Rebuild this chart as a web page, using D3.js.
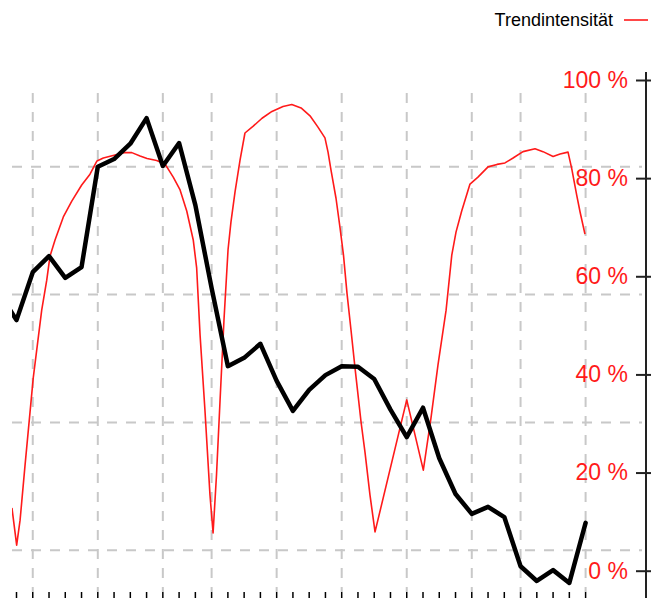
<!DOCTYPE html>
<html><head><meta charset="utf-8">
<script src="https://cdn.jsdelivr.net/npm/d3@7"></script>
<style>html,body{margin:0;padding:0;background:#fff;}svg{display:block;}</style>
</head><body>
<svg id="chart" width="651" height="598"></svg>
<script>
// Black series (weekly, index -1 lies before the visible area)
const kursWeeks = d3.range(-1, 36);
const kursValues = [60.0, 56.0, 63.5, 66.0, 62.6, 64.3, 80.0, 81.2, 83.6, 87.6, 80.1, 83.7, 74.0, 61.0,
  48.8, 50.1, 52.3, 46.5, 41.8, 45.1, 47.4, 48.8, 48.7, 46.8, 42.0, 37.7, 42.3, 34.4, 28.8, 25.7,
  26.8, 25.2, 17.5, 15.2, 16.9, 14.9, 24.3];
// Red series "Trendintensität" (%), sampled at week positions
const trendWeeks = [-0.28, 0.01, 0.22, 0.52, 1.03, 1.55, 1.86, 2.06, 2.37, 2.88, 3.40, 4.01, 4.52, 4.95, 5.34,
  6.06, 6.61, 7.09, 7.60, 8.03, 8.62, 9.13, 9.64, 10.06, 10.47, 10.87, 11.08, 11.29, 11.59, 11.90, 12.09,
  12.30, 12.52, 12.76, 13.01, 13.19, 13.44, 13.75, 14.05, 14.56, 15.10, 15.71, 16.39, 16.93, 17.50, 18.05,
  18.54, 18.97, 19.16, 19.34, 19.65, 19.90, 20.11, 20.33, 20.57, 20.82, 21.19, 21.43, 21.74, 22.05, 24.00,
  25.02, 25.49, 25.92, 26.42, 26.77, 27.03, 27.38, 27.89, 28.38, 29.00, 29.55, 30.04, 30.54, 31.15, 31.89,
  32.38, 33.00, 33.43, 33.92, 34.15, 34.45, 34.66, 34.96];
const trendValues = [12.8, 5.2, 10.3, 21.3, 39.3, 53.1, 59.2, 64.1, 67.4, 72.1, 75.3, 78.6, 80.8, 83.5, 84.1,
  84.7, 85.2, 85.2, 84.5, 84.0, 83.6, 82.9, 80.2, 77.6, 73.3, 67.4, 61.7, 48.0, 32.7, 15.4, 7.7,
  19.5, 34.8, 51.1, 65.4, 71.1, 77.2, 83.7, 89.2, 90.6, 92.2, 93.6, 94.6, 95.0, 94.3, 92.7,
  90.4, 88.2, 85.3, 81.7, 75.9, 69.8, 64.3, 56.4, 49.1, 41.3, 30.3, 24.2, 15.4, 7.9, 34.8,
  20.5, 31.1, 41.9, 53.1, 64.3, 69.0, 73.3, 78.8, 80.2, 82.3, 82.8, 83.1, 84.1, 85.4, 86.0,
  85.4, 84.4, 84.9, 85.3, 81.9, 76.6, 73.1, 68.6];
const monthGridWeeks = [1, 5, 9, 12, 16, 20, 24, 28, 31, 35];
const tickWeeks = d3.range(0, 36);
const pctTicks = [0, 20, 40, 60, 80, 100];
const kursGrid = [20, 40, 60, 80];
const legendLabel = "Trendintensität";

const svg = d3.select("#chart");
const W = 651, H = 598;
const plotLeft = 12, plotTop = 93, axisX = 646;

const x = d3.scaleLinear().domain([0, 35]).range([16.5, 585.6]);
const yR = d3.scaleLinear().domain([0, 100]).range([570.7, 80]);
const yL = d3.scaleLinear().domain([20, 80]).range([550.3, 166.7]);

svg.append("defs").append("clipPath").attr("id", "plotclip")
  .append("rect").attr("x", plotLeft).attr("y", 0).attr("width", axisX - plotLeft).attr("height", H);

const gridColor = "#c8c8c8";
// horizontal grid (left hidden scale)
svg.append("g").selectAll("line").data(kursGrid).join("line")
  .attr("x1", plotLeft).attr("x2", 642)
  .attr("y1", d => yL(d)).attr("y2", d => yL(d))
  .attr("stroke", gridColor).attr("stroke-width", 2).attr("stroke-dasharray", "10,9");
// vertical grid
svg.append("g").selectAll("line").data(monthGridWeeks).join("line")
  .attr("x1", d => x(d)).attr("x2", d => x(d))
  .attr("y1", plotTop).attr("y2", 592)
  .attr("stroke", gridColor).attr("stroke-width", 2).attr("stroke-dasharray", "10,9");

// bottom week ticks
svg.append("g").selectAll("line").data(tickWeeks).join("line")
  .attr("x1", d => x(d)).attr("x2", d => x(d))
  .attr("y1", 592).attr("y2", 598)
  .attr("stroke", "#000").attr("stroke-width", 1.5);

const plot = svg.append("g").attr("clip-path", "url(#plotclip)");

// red line
const trendData = trendWeeks.map((w, i) => [w, trendValues[i]]);
plot.append("path").datum(trendData)
  .attr("fill", "none").attr("stroke", "#ff1a1a").attr("stroke-width", 1.6)
  .attr("stroke-linejoin", "round")
  .attr("d", d3.line().x(d => x(d[0])).y(d => yR(d[1])));

// black line
const kursData = kursWeeks.map((w, i) => [w, kursValues[i]]);
plot.append("path").datum(kursData)
  .attr("fill", "none").attr("stroke", "#000").attr("stroke-width", 4.5)
  .attr("stroke-linejoin", "round").attr("stroke-linecap", "round")
  .attr("d", d3.line().x(d => x(d[0])).y(d => yL(d[1])));

// right axis
const axis = d3.axisLeft(yR).tickValues(pctTicks).tickFormat(d => d + " %")
  .tickSize(10).tickPadding(8);
const ga = svg.append("g").attr("transform", `translate(${axisX},0)`).call(axis);
ga.select(".domain").remove();
ga.selectAll(".tick line").attr("x1", 5).attr("x2", -10).attr("stroke", "#222").attr("stroke-width", 2);
ga.selectAll(".tick text").attr("fill", "#ff1a1a")
  .style("font-family", "'Liberation Sans', Arial, sans-serif").style("font-size", "23px");
svg.append("line").attr("x1", axisX).attr("x2", axisX).attr("y1", 72).attr("y2", H)
  .attr("stroke", "#222").attr("stroke-width", 2);

// legend
svg.append("text").attr("x", 613).attr("y", 26).attr("text-anchor", "end")
  .style("font-family", "'Liberation Sans', Arial, sans-serif").style("font-size", "18px")
  .attr("fill", "#000").text(legendLabel);
svg.append("line").attr("x1", 624).attr("x2", 648).attr("y1", 20).attr("y2", 20)
  .attr("stroke", "#ff1a1a").attr("stroke-width", 1.6);
</script>
</body></html>
